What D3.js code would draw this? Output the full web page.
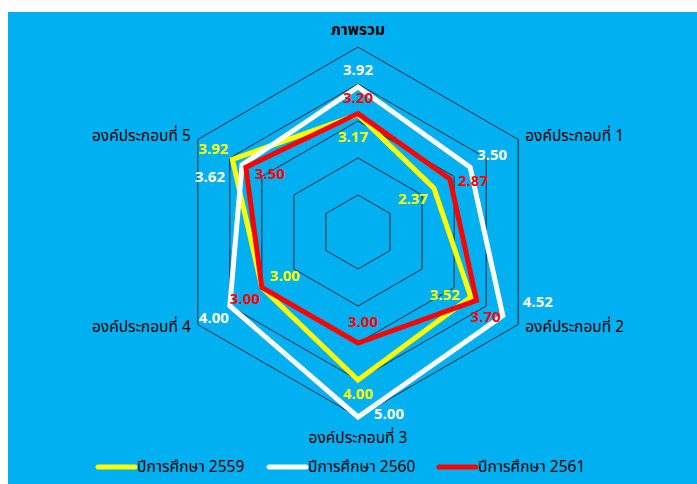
<!DOCTYPE html>
<html>
<head>
<meta charset="utf-8">
<script src="https://cdn.jsdelivr.net/npm/d3@7"></script>
<style>
	body { margin: 0; background: #fff; }
	svg { display: block; }
	text { font-family: Tahoma, "Noto Sans Thai", "Noto Sans", "DejaVu Sans", sans-serif; }
</style>
</head>
<body>
<div class="container"></div>
<script>
// data
var categories = ['ภาพรวม', 'องค์ประกอบที่ 1', 'องค์ประกอบที่ 2', 'องค์ประกอบที่ 3', 'องค์ประกอบที่ 4', 'องค์ประกอบที่ 5'];
var seriesNames = ['ปีการศึกษา 2559', 'ปีการศึกษา 2560', 'ปีการศึกษา 2561'];
var values2559 = [3.17, 2.37, 3.52, 4.00, 3.00, 3.92];
var values2560 = [3.92, 3.50, 4.52, 5.00, 4.00, 3.62];
var values2561 = [3.20, 2.87, 3.70, 3.00, 3.00, 3.50];
var ringTicks = [1, 2, 3, 4, 5];

var colors = ['#FFFF00', '#FFFFFF', '#FF0000'];
var allValues = [values2559, values2560, values2561];

// label nudges (px) per series / per axis, the way excel placed them
var labelNudge = [
	[[-5, 23], [-21, 11], [-26, -2], [0, 14], [23, -11], [-19, -10]],
	[[0, -16], [22, -12], [35, -13], [31, -3], [-16, 12], [-32, 12]],
	[[0, -15], [23, 3], [9, 17], [5, -21], [-17, 12], [24, 7]]
];

var width = 697, height = 484;
var cx = 358, cy = 232, rMax = 185;

var svg = d3.select('.container').append('svg')
	.attr('width', width)
	.attr('height', height);

svg.append('rect')
	.attr('x', 8).attr('y', 12)
	.attr('width', width - 8).attr('height', height - 12)
	.attr('fill', '#00B0F0');

var r = d3.scaleLinear().domain([0, 5]).range([0, rMax]);
var angle = d3.scalePoint().domain(d3.range(categories.length)).range([0, 2 * Math.PI * 5 / 6]);

function pt(i, v) {
	var a = angle(i);
	return [cx + r(v) * Math.sin(a), cy - r(v) * Math.cos(a)];
}

var g = svg.append('g');

// grid rings
ringTicks.forEach(function(t) {
	var pts = categories.map(function(c, i) { return pt(i, t); });
	g.append('path')
		.attr('d', d3.line()(pts) + 'Z')
		.attr('fill', 'none')
		.attr('stroke', '#1a2a3a')
		.attr('stroke-width', 1);
});

// category labels
categories.forEach(function(c, i) {
	var p = pt(i, 5);
	var a = angle(i);
	var s = Math.sin(a), co = Math.cos(a);
	var anchor = Math.abs(s) < 0.01 ? 'middle' : (s > 0 ? 'start' : 'end');
	var dx = Math.abs(s) < 0.01 ? 0 : (s > 0 ? 7 : -7);
	var dy = Math.abs(s) < 0.01 ? (co > 0 ? -17 : 21) : (co > 0 ? -3 : 3);
	g.append('text')
		.attr('x', p[0] + dx)
		.attr('y', p[1] + dy)
		.attr('text-anchor', anchor)
		.attr('dominant-baseline', 'central')
		.attr('font-size', 15.5)
		.attr('font-weight', i === 0 ? 'bold' : 'normal')
		.attr('fill', '#000')
		.text(c);
});

// series lines
allValues.forEach(function(vals, s) {
	var pts = vals.map(function(v, i) { return pt(i, v); });
	g.append('path')
		.attr('d', d3.line()(pts) + 'Z')
		.attr('fill', 'none')
		.attr('stroke', colors[s])
		.attr('stroke-width', 5)
		.attr('stroke-linejoin', 'miter');
});

// data labels
allValues.forEach(function(vals, s) {
	vals.forEach(function(v, i) {
		var p = pt(i, v);
		g.append('text')
			.attr('x', p[0] + labelNudge[s][i][0])
			.attr('y', p[1] + labelNudge[s][i][1])
			.attr('text-anchor', 'middle')
			.attr('dominant-baseline', 'central')
			.attr('font-size', 15)
			.attr('font-weight', 'bold')
			.attr('fill', colors[s])
			.text(d3.format('.2f')(v));
	});
});

// legend
var legendX = [98, 269, 439];
seriesNames.forEach(function(n, s) {
	var lg = svg.append('g').attr('transform', 'translate(' + legendX[s] + ',467)');
	lg.append('line')
		.attr('x1', 0).attr('x2', 37)
		.attr('stroke', colors[s])
		.attr('stroke-width', 5)
		.attr('stroke-linecap', 'round');
	lg.append('text')
		.attr('x', 39)
		.attr('dominant-baseline', 'central')
		.attr('font-size', 15.5)
		.attr('fill', '#000')
		.text(n);
});
</script>
</body>
</html>
